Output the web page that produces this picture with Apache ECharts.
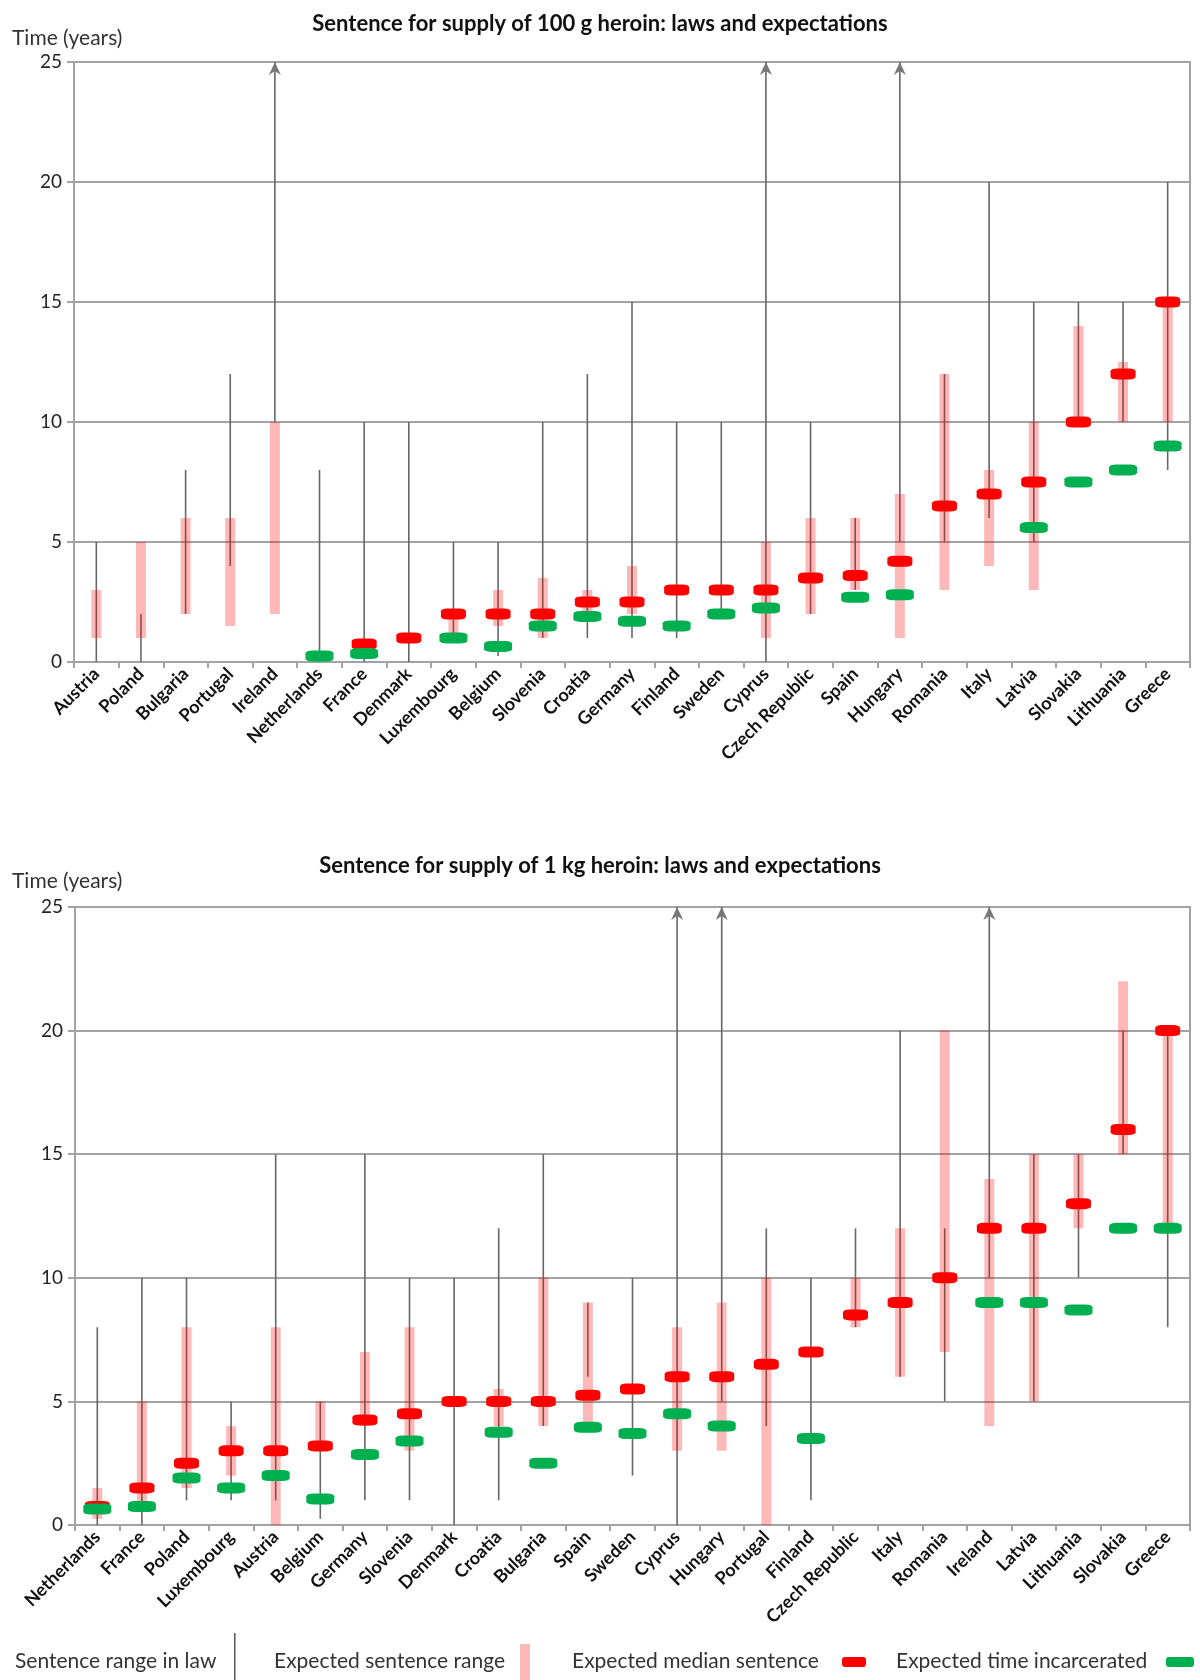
<!DOCTYPE html>
<html>
<head>
<meta charset="utf-8">
<script src="https://cdn.jsdelivr.net/npm/echarts@6/dist/echarts.min.js"></script>
<style>
html, body { margin: 0; background: #fff; }
#chart { width: 1200px; height: 1680px; }
</style>
</head>
<body>
<div id="chart"></div>
<script>
// ---- 100 g heroin ----
var countries100 = ['Austria', 'Poland', 'Bulgaria', 'Portugal', 'Ireland', 'Netherlands', 'France', 'Denmark',
    'Luxembourg', 'Belgium', 'Slovenia', 'Croatia', 'Germany', 'Finland', 'Sweden', 'Cyprus', 'Czech Republic',
    'Spain', 'Hungary', 'Romania', 'Italy', 'Latvia', 'Slovakia', 'Lithuania', 'Greece'];
var lawLo100 = [0, 0, 2, 4, 10, 0, 0, 0, 1, 0.25, 1, 1, 1, 1, 2, 0, 2, 3, 5, 5, 6, 5, 10, 10, 8];
var lawHi100 = [5, 2, 8, 12, 25, 8, 10, 10, 5, 5, 10, 12, 15, 10, 10, 25, 10, 6, 25, 12, 20, 15, 15, 15, 20];
var expLo100 = [1, 1, 2, 1.5, 2, null, null, null, 1, 1.5, 1, 2, 2, null, null, 1, 2, 3, 1, 3, 4, 3, 10, 10, 10];
var expHi100 = [3, 5, 6, 6, 10, null, null, null, 2, 3, 3.5, 3, 4, null, null, 5, 6, 6, 7, 12, 8, 10, 14, 12.5, 15];
var median100 = [null, null, null, null, null, null, 0.75, 1, 2, 2, 2, 2.5, 2.5, 3, 3, 3, 3.5, 3.6, 4.2, 6.5, 7, 7.5, 10, 12, 15];
var jail100 = [null, null, null, null, null, 0.25, 0.35, null, 1, 0.65, 1.5, 1.9, 1.7, 1.5, 2, 2.25, null, 2.7, 2.8, null, null, 5.6, 7.5, 8, 9];
var open100 = ['Ireland', 'Cyprus', 'Hungary'];   // no upper limit in law -> arrow

// ---- 1 kg heroin ----
var countries1k = ['Netherlands', 'France', 'Poland', 'Luxembourg', 'Austria', 'Belgium', 'Germany', 'Slovenia',
    'Denmark', 'Croatia', 'Bulgaria', 'Spain', 'Sweden', 'Cyprus', 'Hungary', 'Portugal', 'Finland',
    'Czech Republic', 'Italy', 'Romania', 'Ireland', 'Latvia', 'Lithuania', 'Slovakia', 'Greece'];
var lawLo1k = [0, 0, 1, 1, 1, 0.25, 1, 1, 0, 1, 4, 6, 2, 0, 5, 4, 1, 8, 6, 5, 10, 5, 10, 15, 8];
var lawHi1k = [8, 10, 10, 5, 15, 5, 15, 10, 10, 12, 15, 9, 10, 25, 25, 12, 10, 12, 20, 12, 25, 15, 15, 20, 20];
var expLo1k = [0.25, 0.75, 1.5, 2, 0, 3, 4, 3, null, 4, 4, 4, null, 3, 3, 0, null, 8, 6, 7, 4, 5, 12, 15, 12];
var expHi1k = [1.5, 5, 8, 4, 8, 5, 7, 8, null, 5.5, 10, 9, null, 8, 9, 10, null, 10, 12, 20, 14, 15, 15, 22, 20];
var median1k = [0.75, 1.5, 2.5, 3, 3, 3.2, 4.25, 4.5, 5, 5, 5, 5.25, 5.5, 6, 6, 6.5, 7, 8.5, 9, 10, 12, 12, 13, 16, 20];
var jail1k = [0.65, 0.75, 1.9, 1.5, 2, 1.05, 2.85, 3.4, null, 3.75, 2.5, 3.95, 3.7, 4.5, 4, null, 3.5, null, null, null, 9, 9, 8.7, 12, 12];
var open1k = ['Cyprus', 'Hungary', 'Ireland'];

var yTicks = [0, 5, 10, 15, 20, 25];

var GRID_COLOR = '#a3a3a3';
var LAW_COLOR = '#666666';
var PINK = 'rgba(255, 0, 0, 0.28)';
var RED = '#ff0000';
var GREEN = '#00b050';

var myChart = echarts.init(document.getElementById('chart'));

function rangeData(cats, lo, hi, open) {
    var out = [];
    for (var i = 0; i < cats.length; i++) {
        if (lo[i] == null || hi[i] == null) continue;
        out.push([i, lo[i], hi[i], open && open.indexOf(cats[i]) >= 0 ? 1 : 0]);
    }
    return out;
}

function renderLaw(params, api) {
    var a = api.coord([api.value(0), api.value(1)]);
    var b = api.coord([api.value(0), api.value(2)]);
    var kids = [{
        type: 'line',
        shape: { x1: a[0], y1: a[1], x2: b[0], y2: b[1] },
        style: { stroke: LAW_COLOR, lineWidth: 1.6 }
    }];
    if (api.value(3)) {
        kids.push({
            type: 'polygon',
            shape: { points: [[b[0], b[1]], [b[0] - 6, b[1] + 13], [b[0], b[1] + 9], [b[0] + 6, b[1] + 13]] },
            style: { fill: '#777' }
        });
    }
    return { type: 'group', children: kids };
}

function renderExp(params, api) {
    var a = api.coord([api.value(0), api.value(1)]);
    var b = api.coord([api.value(0), api.value(2)]);
    return {
        type: 'rect',
        shape: { x: a[0] - 5, y: b[1], width: 10, height: a[1] - b[1] },
        style: { fill: PINK }
    };
}

function xAxisOf(idx, cats) {
    return {
        type: 'category',
        gridIndex: idx,
        data: cats,
        axisLine: { lineStyle: { color: GRID_COLOR, width: 2 } },
        axisTick: { show: true, length: 6, lineStyle: { color: GRID_COLOR, width: 2 } },
        axisLabel: {
            interval: 0, rotate: 45, margin: 9,
            fontFamily: 'Lato', fontWeight: 'bold', fontSize: 18, color: '#111'
        }
    };
}

function yAxisOf(idx) {
    return {
        type: 'value',
        gridIndex: idx,
        min: yTicks[0], max: yTicks[yTicks.length - 1], interval: 5,
        axisLine: { show: true, lineStyle: { color: GRID_COLOR, width: 2 } },
        axisTick: { show: true, length: 7, lineStyle: { color: GRID_COLOR, width: 2 } },
        splitLine: { lineStyle: { color: GRID_COLOR, width: 2 } },
        axisLabel: { margin: 12, fontFamily: 'Lato', fontSize: 19, color: '#222' }
    };
}

function seriesOf(idx, cats, lawLo, lawHi, open, expLo, expHi, median, jail) {
    return [{
        name: 'Sentence range in law', type: 'custom',
        xAxisIndex: idx, yAxisIndex: idx,
        renderItem: renderLaw, clip: false,
        data: rangeData(cats, lawLo, lawHi, open), z: 2
    }, {
        name: 'Expected sentence range', type: 'custom',
        xAxisIndex: idx, yAxisIndex: idx,
        renderItem: renderExp,
        data: rangeData(cats, expLo, expHi), z: 3
    }, {
        name: 'Expected median sentence', type: 'scatter',
        xAxisIndex: idx, yAxisIndex: idx,
        symbol: 'roundRect', symbolSize: [25, 11],
        itemStyle: { color: RED, opacity: 1 },
        data: median, z: 4
    }, {
        name: 'Expected time incarcerated', type: 'scatter',
        xAxisIndex: idx, yAxisIndex: idx,
        symbol: 'roundRect', symbolSize: [28, 11],
        itemStyle: { color: GREEN, opacity: 1 },
        data: jail, z: 5
    }];
}

var textStyleTitle = { fontFamily: 'Lato', fontWeight: 'bold', fontSize: 22, color: '#111' };
var textStyleName = { fontFamily: 'Lato', fontWeight: 'normal', fontSize: 21, color: '#333' };
var legendFont = { fontFamily: 'Lato', fontSize: 21, fill: '#333' };

function legendText(x, s) {
    return { type: 'text', left: x, top: 1651, style: Object.assign({ text: s }, legendFont) };
}

var option = {
    animation: false,
    backgroundColor: '#fff',
    title: [
        { text: 'Sentence for supply of 100 g heroin: laws and expectations', left: 'center', top: 8, textStyle: textStyleTitle },
        { text: 'Time (years)', left: 7, top: 23, textStyle: textStyleName },
        { text: 'Sentence for supply of 1 kg heroin: laws and expectations', left: 'center', top: 850, textStyle: textStyleTitle },
        { text: 'Time (years)', left: 7, top: 866, textStyle: textStyleName }
    ],
    grid: [
        { left: 74, right: 10, top: 62, height: 600, show: true, borderColor: GRID_COLOR, borderWidth: 2, backgroundColor: 'transparent' },
        { left: 75, right: 10, top: 907, height: 618, show: true, borderColor: GRID_COLOR, borderWidth: 2, backgroundColor: 'transparent' }
    ],
    xAxis: [xAxisOf(0, countries100), xAxisOf(1, countries1k)],
    yAxis: [yAxisOf(0), yAxisOf(1)],
    series: seriesOf(0, countries100, lawLo100, lawHi100, open100, expLo100, expHi100, median100, jail100)
        .concat(seriesOf(1, countries1k, lawLo1k, lawHi1k, open1k, expLo1k, expHi1k, median1k, jail1k)),
    // legend drawn by hand: the four keys have different icon shapes/sizes
    graphic: [
        legendText(15, 'Sentence range in law'),
        { type: 'rect', left: 234, top: 1633, shape: { width: 1.5, height: 47 }, style: { fill: '#555' } },
        legendText(274, 'Expected sentence range'),
        { type: 'rect', left: 520, top: 1644, shape: { width: 10, height: 36 }, style: { fill: PINK } },
        legendText(572, 'Expected median sentence'),
        { type: 'rect', left: 842, top: 1657, shape: { width: 24, height: 10, r: 3 }, style: { fill: RED } },
        legendText(896, 'Expected time incarcerated'),
        { type: 'rect', left: 1166, top: 1657, shape: { width: 28, height: 10, r: 3 }, style: { fill: GREEN } }
    ]
};

myChart.setOption(option);
</script>
</body>
</html>
